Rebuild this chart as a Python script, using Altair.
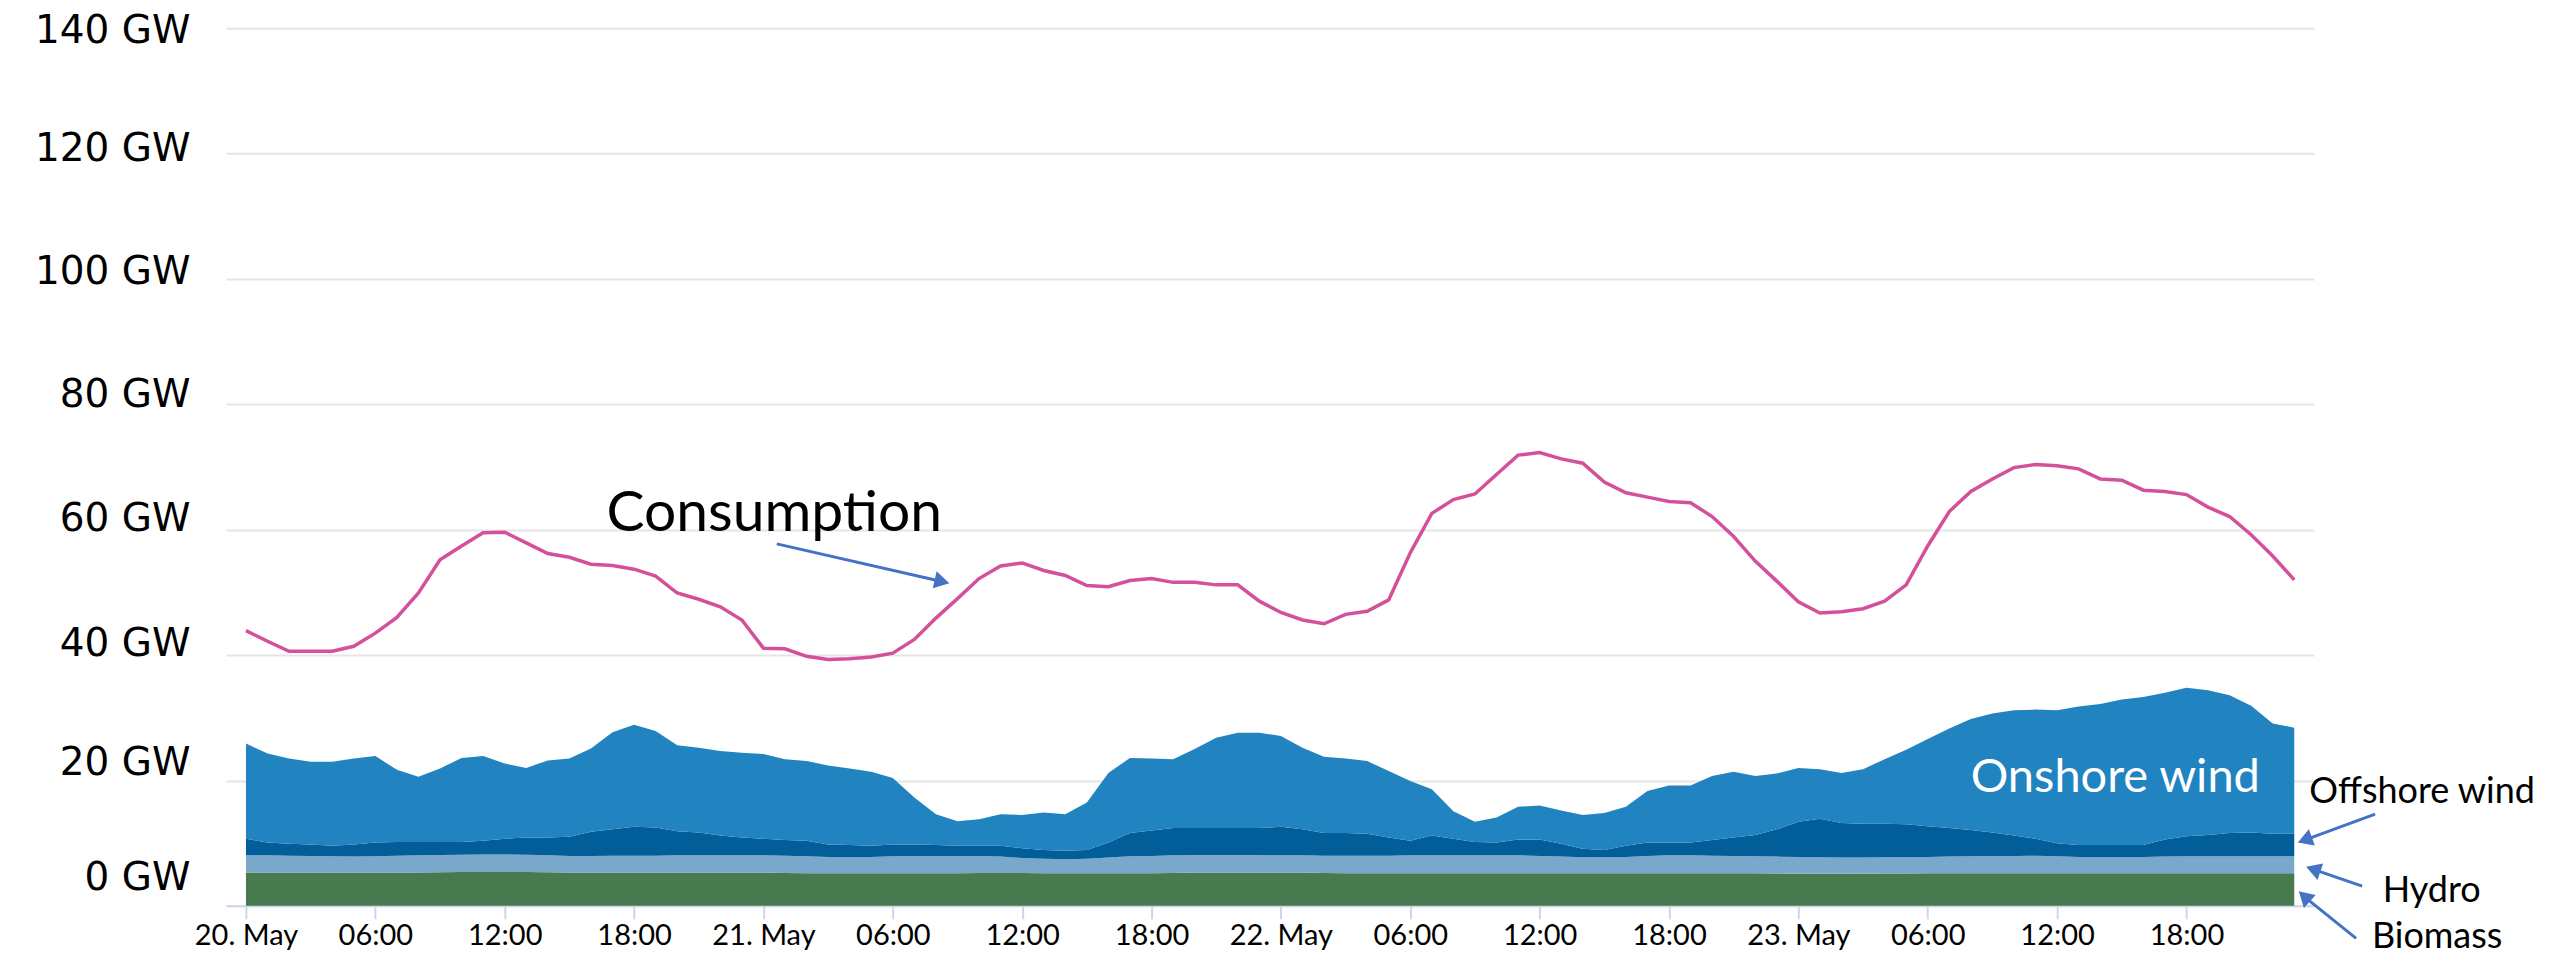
import altair as alt
import pandas as pd

# ---------------- data (hourly 20-23 May) ----------------
# x = hours since 20 May 00:00
consumption = [
    43.9, 42.2, 40.6, 40.6, 40.6, 41.4, 43.5, 46.0, 49.9, 55.2, 57.4, 59.5,
    59.6, 57.9, 56.2, 55.6, 54.5, 54.3, 53.7, 52.6, 49.9, 48.9, 47.7, 45.6,
    41.1, 41.0, 39.8, 39.3, 39.4, 39.7, 40.3, 42.5, 45.9, 49.0, 52.2, 54.2,
    54.7, 53.5, 52.7, 51.1, 50.9, 51.9, 52.2, 51.6, 51.6, 51.2, 51.2, 48.6,
    46.8, 45.6, 45.0, 46.5, 47.0, 48.8, 56.3, 62.6, 64.8, 65.7, 68.8, 71.9,
    72.3, 71.3, 70.6, 67.6, 65.9, 65.2, 64.5, 64.3, 62.1, 58.9, 55.0, 51.8,
    48.5, 46.7, 46.9, 47.4, 48.6, 51.2, 57.4, 62.9, 66.1, 68.1, 69.9, 70.4,
    70.2, 69.7, 68.1, 67.9, 66.3, 66.1, 65.6, 63.6, 62.1, 59.2, 55.8, 52.0,
]

biomass = [
    5.3, 5.3, 5.3, 5.3, 5.3, 5.3, 5.3, 5.3, 5.3, 5.35, 5.4, 5.4,
    5.4, 5.4, 5.35, 5.3, 5.3, 5.3, 5.3, 5.3, 5.3, 5.3, 5.3, 5.3,
    5.3, 5.25, 5.2, 5.2, 5.2, 5.2, 5.2, 5.2, 5.2, 5.2, 5.25, 5.25,
    5.25, 5.2, 5.2, 5.2, 5.2, 5.2, 5.2, 5.25, 5.3, 5.3, 5.3, 5.3,
    5.3, 5.3, 5.25, 5.2, 5.2, 5.2, 5.2, 5.2, 5.2, 5.2, 5.2, 5.2,
    5.2, 5.2, 5.2, 5.2, 5.2, 5.2, 5.2, 5.2, 5.2, 5.2, 5.2, 5.15,
    5.1, 5.1, 5.1, 5.1, 5.15, 5.15, 5.2, 5.2, 5.2, 5.2, 5.2, 5.2,
    5.2, 5.2, 5.2, 5.2, 5.2, 5.2, 5.2, 5.2, 5.2, 5.2, 5.2, 5.2,
]

hydro = [
    2.8, 2.75, 2.7, 2.65, 2.6, 2.55, 2.6, 2.7, 2.75, 2.75, 2.75, 2.8,
    2.8, 2.75, 2.7, 2.65, 2.65, 2.7, 2.7, 2.7, 2.75, 2.75, 2.75, 2.75,
    2.75, 2.75, 2.7, 2.6, 2.6, 2.6, 2.7, 2.75, 2.75, 2.75, 2.7, 2.6,
    2.4, 2.3, 2.25, 2.3, 2.5, 2.7, 2.75, 2.8, 2.8, 2.8, 2.8, 2.8,
    2.75, 2.75, 2.75, 2.8, 2.8, 2.8, 2.85, 2.85, 2.85, 2.85, 2.85, 2.85,
    2.75, 2.65, 2.55, 2.55, 2.6, 2.75, 2.85, 2.85, 2.8, 2.75, 2.7, 2.7,
    2.7, 2.65, 2.6, 2.6, 2.6, 2.6, 2.6, 2.65, 2.7, 2.75, 2.75, 2.8,
    2.7, 2.6, 2.55, 2.55, 2.6, 2.65, 2.7, 2.7, 2.7, 2.7, 2.7, 2.7,
]

# upper edge of the offshore-wind band (biomass + hydro + offshore)
offshore_top = [
    10.7, 10.1, 9.9, 9.8, 9.6, 9.8, 10.1, 10.2, 10.2, 10.2, 10.2, 10.4,
    10.7, 10.9, 10.9, 11.0, 11.8, 12.2, 12.6, 12.5, 11.9, 11.7, 11.2, 10.9,
    10.7, 10.5, 10.4, 9.8, 9.7, 9.6, 9.8, 9.8, 9.7, 9.6, 9.6, 9.6,
    9.2, 8.9, 8.8, 8.9, 10.1, 11.6, 12.0, 12.4, 12.4, 12.4, 12.4, 12.4,
    12.6, 12.2, 11.6, 11.6, 11.5, 10.9, 10.4, 11.2, 10.7, 10.2, 10.1, 10.6,
    10.6, 9.9, 9.1, 8.9, 9.6, 10.1, 10.1, 10.1, 10.5, 10.9, 11.3, 12.2,
    13.4, 13.9, 13.2, 13.1, 13.1, 13.0, 12.7, 12.4, 12.1, 11.7, 11.2, 10.7,
    10.0, 9.7, 9.7, 9.7, 9.7, 10.6, 11.1, 11.3, 11.6, 11.7, 11.5, 11.5,
]

# upper edge of the onshore-wind band (total of the stack)
onshore_top = [
    25.9, 24.3, 23.5, 23.0, 23.0, 23.5, 23.9, 21.7, 20.6, 21.9, 23.6, 23.9,
    22.7, 22.0, 23.2, 23.5, 25.1, 27.7, 28.9, 27.9, 25.6, 25.2, 24.7, 24.4,
    24.2, 23.4, 23.1, 22.4, 21.9, 21.4, 20.4, 17.3, 14.6, 13.5, 13.8, 14.6,
    14.5, 14.9, 14.6, 16.5, 21.2, 23.6, 23.5, 23.4, 25.0, 26.8, 27.6, 27.6,
    27.1, 25.2, 23.8, 23.5, 23.1, 21.5, 19.9, 18.6, 15.1, 13.4, 14.1, 15.8,
    16.0, 15.2, 14.5, 14.8, 15.8, 18.3, 19.2, 19.2, 20.7, 21.4, 20.7, 21.1,
    22.0, 21.8, 21.2, 21.8, 23.4, 24.9, 26.6, 28.3, 29.8, 30.7, 31.2, 31.3,
    31.2, 31.8, 32.2, 32.9, 33.3, 34.0, 34.8, 34.4, 33.6, 31.9, 29.1, 28.4,
]

sources = ["Biomass", "Hydro", "Offshore wind", "Onshore wind"]
source_colors = ["#487A50", "#7AA8CA", "#025E99", "#2283C1"]

y_ticks = [0, 20, 40, 60, 80, 100, 120, 140]
y_label_shift = [-28, -18, -12, -11, -10, -7, -5, 2]
x_ticks = list(range(0, 96, 6))
x_tick_labels = ["20. May", "06:00", "12:00", "18:00",
                 "21. May", "06:00", "12:00", "18:00",
                 "22. May", "06:00", "12:00", "18:00",
                 "23. May", "06:00", "12:00", "18:00"]

# annotations: hours since 20 May 00:00, GW value
label_text = ["Consumption", "Onshore wind", "Offshore wind", "Hydro", "Biomass"]
label_hour = [24.5, 86.7, 95.7, 99.1, 98.6]
label_gw = [59.8, 18.1, 16.4, 0.6, -6.8]
label_kind = ["big", "inside", "side", "side", "side"]

arrow_start_hour = [24.62, 98.75, 98.15, 97.87]
arrow_start_gw = [57.74, 14.64, 3.14, -5.2]
arrow_end_hour = [32.17, 95.60, 95.99, 95.55]
arrow_end_gw = [51.83, 10.65, 5.70, 1.23]
arrow_angle = [102.8, 249.8, 289.1, 312.5]

# ---------------- tables ----------------
rows = []
for i in range(len(consumption)):
    comp = [
        biomass[i],
        hydro[i],
        offshore_top[i] - biomass[i] - hydro[i],
        onshore_top[i] - offshore_top[i],
    ]
    for k, s in enumerate(sources):
        rows.append({"hour": i, "source": s, "rank": k, "value": round(comp[k], 3)})
gen_df = pd.DataFrame(rows)

cons_df = pd.DataFrame({"hour": list(range(len(consumption))), "consumption": consumption})

lab_df = pd.DataFrame({"h": label_hour, "v": label_gw, "label": label_text, "kind": label_kind})

arr_df = pd.DataFrame({
    "h1": arrow_start_hour, "v1": arrow_start_gw,
    "h2": arrow_end_hour, "v2": arrow_end_gw,
    "ang": arrow_angle,
})

# ---------------- scales / axes ----------------
x_scale = alt.Scale(domain=[-0.93, 95.92], nice=False, zero=False)
y_scale = alt.Scale(domain=[0, 140], nice=False, zero=True)

label_lookup = "{" + ",".join(f"'{h}': '{t}'" for h, t in zip(x_ticks, x_tick_labels)) + "}"

x_axis = alt.Axis(
    title=None,
    values=x_ticks,
    labelExpr=label_lookup + "[datum.value + '']",
    grid=False,
    domainColor="#CCD6EB", domainWidth=2,
    tickColor="#CCD6EB", tickWidth=2, tickSize=13,
    labelFont="Lato", labelFontSize=29, labelColor="#000000",
    labelPadding=3, labelFlush=False, labelOverlap=False,
)

offset_conditions = [
    {"test": f"datum.value == {v}", "value": s} for v, s in zip(y_ticks, y_label_shift)
]
y_axis = alt.Axis(
    title=None, values=y_ticks,
    labelExpr="datum.value + ' GW'",
    grid=True, gridColor="#E6E6E6", gridWidth=2,
    domain=False, ticks=False,
    labelFont="DejaVu Sans", labelFontSize=39, labelColor="#000000",
    labelPadding=36,
    labelOffset={"condition": offset_conditions, "value": -8},
)

areas = alt.Chart(gen_df).mark_area(interpolate="linear").encode(
    x=alt.X("hour:Q", scale=x_scale, axis=x_axis),
    y=alt.Y("value:Q", stack="zero", scale=y_scale, axis=y_axis),
    color=alt.Color("source:N", scale=alt.Scale(domain=sources, range=source_colors), legend=None),
    order=alt.Order("rank:Q", sort="ascending"),
)

line = alt.Chart(cons_df).mark_line(color="#D4519A", strokeWidth=3.5).encode(
    x=alt.X("hour:Q", title=None),
    y=alt.Y("consumption:Q", title=None),
)


def text_layer(kind, align, size, color):
    return alt.Chart(lab_df).transform_filter(f"datum.kind == '{kind}'").mark_text(
        font="Lato", align=align, baseline="alphabetic", fontSize=size, color=color
    ).encode(
        x=alt.X("h:Q", title=None), y=alt.Y("v:Q", title=None),
        text="label:N",
    )


text_big = text_layer("big", "center", 57, "#000000")
text_inside = text_layer("inside", "center", 47, "#FFFFFF")
text_side = text_layer("side", "left", 36, "#000000")

arrow_lines = alt.Chart(arr_df).mark_rule(color="#4472C4", strokeWidth=3).encode(
    x=alt.X("h1:Q", title=None), y=alt.Y("v1:Q", title=None),
    x2="h2:Q", y2="v2:Q",
)

arrow_heads = alt.Chart(arr_df).mark_point(
    shape="triangle", filled=True, color="#4472C4", opacity=1, size=300
).encode(
    x=alt.X("h2:Q", title=None), y=alt.Y("v2:Q", title=None),
    angle=alt.Angle("ang:Q", scale=None),
)

chart = alt.layer(areas, line, arrow_lines, arrow_heads, text_big, text_inside, text_side).properties(
    width=2089, height=878,
    autosize=alt.AutoSizeParams(type="none"),
    padding={"left": 218, "top": 20, "right": 238, "bottom": 52},
    background="#FFFFFF",
).configure_view(strokeWidth=0)

chart.save("out.html", embed_options={"renderer": "svg", "actions": False})
